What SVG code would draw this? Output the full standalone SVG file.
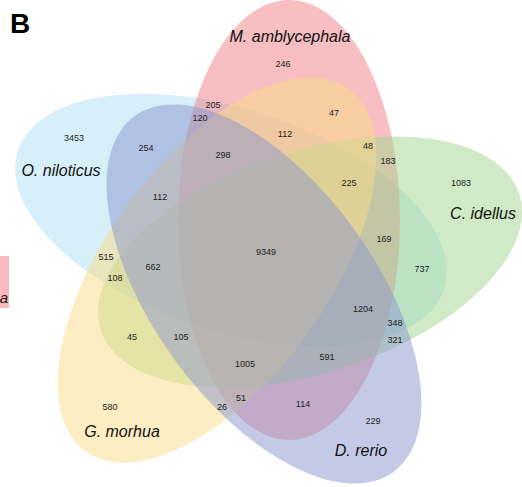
<svg xmlns="http://www.w3.org/2000/svg" width="522" height="487" viewBox="0 0 522 487">
<style>
.n{font-family:"Liberation Sans",Arial,sans-serif;font-size:9px;fill:#222;text-anchor:middle}
.l{font-family:"Liberation Sans",Arial,sans-serif;font-size:16px;font-style:italic;fill:#111;text-anchor:middle}
ellipse{fill-opacity:0.5;stroke:none}
</style>
<rect width="522" height="487" fill="#fff"/>
<g id="legend-fragment">
<rect x="0" y="256" width="9" height="52" fill="#f9b9bd"/>
<text x="4" y="303" class="l" style="font-size:15px">a</text>
</g>
<g id="panel-label"><text x="10" y="33" style="font-family:'Liberation Sans',Arial,sans-serif;font-size:28px;font-weight:bold;fill:#000">B</text></g>
<g id="sets">
<g id="set-oniloticus"><ellipse cx="231" cy="220" rx="111" ry="224" transform="rotate(288 231 220)" fill="#ade0f4"/></g>
<g id="set-mamblycephala"><ellipse cx="289" cy="220" rx="111" ry="220" fill="#ef7f86"/></g>
<g id="set-cidellus"><ellipse cx="310" cy="262" rx="111" ry="220" transform="rotate(72 310 262)" fill="#a2d68f"/></g>
<g id="set-gmorhua"><ellipse cx="217" cy="270" rx="111" ry="224" transform="rotate(216 217 270)" fill="#fbdb85"/></g>
<g id="set-drerio"><ellipse cx="264" cy="294" rx="111" ry="220" transform="rotate(144 264 294)" fill="#8a96cd"/></g>
</g>
<g id="connectors"></g>
<g id="labels">
<text class="l" x="290" y="42">M. amblycephala</text>
<text class="l" x="61" y="176">O. niloticus</text>
<text class="l" x="483" y="219">C. idellus</text>
<text class="l" x="122" y="437">G. morhua</text>
<text class="l" x="361" y="456">D. rerio</text>
</g>
<g id="counts">
<text class="n" x="283" y="67">246</text>
<text class="n" x="213" y="108">205</text>
<text class="n" x="334" y="116">47</text>
<text class="n" x="200" y="121">120</text>
<text class="n" x="74" y="141">3453</text>
<text class="n" x="146" y="151">254</text>
<text class="n" x="285" y="137">112</text>
<text class="n" x="368" y="149">48</text>
<text class="n" x="223" y="158">298</text>
<text class="n" x="388" y="164">183</text>
<text class="n" x="349" y="186">225</text>
<text class="n" x="461" y="186">1083</text>
<text class="n" x="160" y="200">112</text>
<text class="n" x="384" y="242">169</text>
<text class="n" x="266" y="255">9349</text>
<text class="n" x="106" y="260">515</text>
<text class="n" x="153" y="270">662</text>
<text class="n" x="115" y="281">108</text>
<text class="n" x="422" y="272">737</text>
<text class="n" x="363" y="312">1204</text>
<text class="n" x="395" y="326">348</text>
<text class="n" x="395" y="343">321</text>
<text class="n" x="132" y="340">45</text>
<text class="n" x="181" y="340">105</text>
<text class="n" x="245" y="367">1005</text>
<text class="n" x="327" y="360">591</text>
<text class="n" x="241" y="401">51</text>
<text class="n" x="222" y="410">26</text>
<text class="n" x="110" y="410">580</text>
<text class="n" x="303" y="407">114</text>
<text class="n" x="373" y="424">229</text>
</g>
</svg>
